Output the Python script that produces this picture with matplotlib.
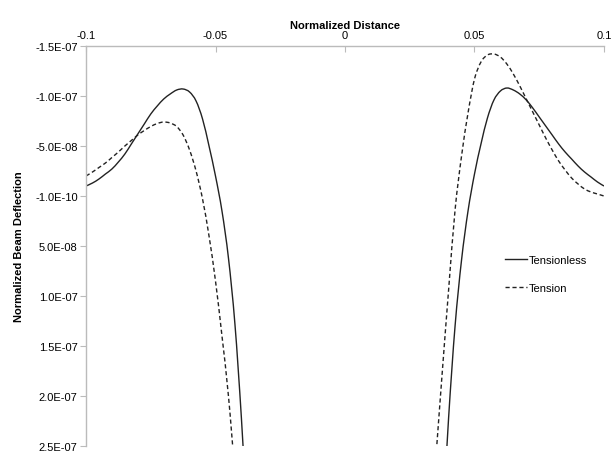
import matplotlib
matplotlib.use('Agg')
import matplotlib.pyplot as plt
from matplotlib.path import Path
from matplotlib.patches import PathPatch
from matplotlib.lines import Line2D
import numpy as np

plt.rcParams['font.family'] = ['Liberation Sans', 'DejaVu Sans']

# beam deflection, values in units of 1e-9
tensionless_left_x = [-0.1000, -0.0975, -0.0950, -0.0925, -0.0900, -0.0875, -0.0850, -0.0825, -0.0800,
                      -0.0775, -0.0750, -0.0725, -0.0700, -0.0675, -0.0650, -0.0625, -0.0600, -0.0575,
                      -0.0550, -0.0525, -0.0500, -0.0475, -0.0450, -0.0425, -0.0400, -0.0375]
tensionless_left_y = [-10, -13, -17, -22, -27, -34, -42, -52, -62,
                      -72, -82, -90, -97, -102, -106, -107, -104, -95,
                      -77, -50, -20, 15, 62, 128, 222, 335]

tensionless_right_x = [0.0375, 0.0400, 0.0425, 0.0450, 0.0475, 0.0500, 0.0525, 0.0550, 0.0575,
                       0.0600, 0.0625, 0.0650, 0.0675, 0.0700, 0.0725, 0.0750, 0.0775, 0.0800,
                       0.0825, 0.0850, 0.0875, 0.0900, 0.0925, 0.0950, 0.0975, 0.1000]
tensionless_right_y = [335, 222, 130, 64, 15, -22, -52, -78, -96,
                       -105, -108, -106, -102, -96, -88, -79, -70, -61,
                       -52, -44, -37, -30, -24, -19, -14, -10]

tension_left_x = [-0.1000, -0.0975, -0.0950, -0.0925, -0.0900, -0.0875, -0.0850, -0.0825, -0.0800,
                  -0.0775, -0.0750, -0.0725, -0.0700, -0.0675, -0.0650, -0.0625, -0.0600, -0.0575,
                  -0.0550, -0.0525, -0.0500, -0.0475, -0.0450, -0.0425, -0.0400]
tension_left_y = [-20, -24, -28.5, -33, -38.5, -44, -50, -55.5, -61,
                  -65.5, -69.5, -72.5, -74, -73, -69.5, -61, -46, -25,
                  3, 40, 85, 140, 200, 280, 380]

tension_right_x = [0.0325, 0.0350, 0.0375, 0.0400, 0.0425, 0.0450, 0.0475, 0.0500, 0.0525,
                   0.0550, 0.0575, 0.0600, 0.0625, 0.0650, 0.0675, 0.0700, 0.0725, 0.0750,
                   0.0775, 0.0800, 0.0825, 0.0850, 0.0875, 0.0900, 0.0925, 0.0950, 0.0975, 0.1000]
tension_right_y = [352, 265, 178, 94, 14, -40, -83, -117, -134,
                   -141, -142, -139, -132, -122, -110, -97, -84, -71,
                   -58, -46, -35, -26, -18, -12, -7, -4, -2, 0]

x_ticks = [-0.1, -0.05, 0, 0.05, 0.1]
x_tick_labels = ['-0.1', '-0.05', '0', '0.05', '0.1']
y_ticks = [-1.5e-7, -1.0e-7, -5.0e-8, -1.0e-10, 5.0e-8, 1.0e-7, 1.5e-7, 2.0e-7, 2.5e-7]
y_tick_labels = ['-1.5E-07', '-1.0E-07', '-5.0E-08', '-1.0E-10', '5.0E-08',
                 '1.0E-07', '1.5E-07', '2.0E-07', '2.5E-07']


def smooth_path(xs, ys):
    # Catmull-Rom through the points, written as cubic bezier segments
    p = np.column_stack([xs, np.array(ys) * 1e-9])
    ext = np.vstack([p[0], p, p[-1]])
    verts = [p[0]]
    codes = [Path.MOVETO]
    for i in range(1, len(ext) - 2):
        p0, p1, p2, p3 = ext[i - 1], ext[i], ext[i + 1], ext[i + 2]
        verts += [p1 + (p2 - p0) / 6, p2 - (p3 - p1) / 6, p2]
        codes += [Path.CURVE4] * 3
    return Path(verts, codes)


fig = plt.figure(figsize=(6.13, 4.56), dpi=100)
ax = fig.add_axes([0.1403, 0.0197, 0.8450, 0.8772])

line_color = '#222222'
dash = (0, (3, 2))

for xs, ys, ls in [(tensionless_left_x, tensionless_left_y, '-'),
                   (tensionless_right_x, tensionless_right_y, '-'),
                   (tension_left_x, tension_left_y, dash),
                   (tension_right_x, tension_right_y, dash)]:
    ax.add_patch(PathPatch(smooth_path(xs, ys), fill=False, edgecolor=line_color,
                           lw=1.0, linestyle=ls))

ax.set_xlim(-0.1, 0.1)
ax.set_ylim(2.5e-7, -1.5e-7)

ax.xaxis.tick_top()
ax.xaxis.set_label_position('top')
ax.set_xticks(x_ticks)
ax.set_xticklabels(x_tick_labels)
ax.set_yticks(y_ticks)
ax.set_yticklabels(y_tick_labels)

spine_color = '#BBBBBB'
for side in ['bottom', 'right']:
    ax.spines[side].set_visible(False)
for side in ['top', 'left']:
    ax.spines[side].set_color(spine_color)
    ax.spines[side].set_linewidth(1.0)

ax.tick_params(axis='x', direction='in', length=4, color=spine_color, labelsize=8, pad=4)
ax.tick_params(axis='y', direction='out', length=4, color=spine_color, labelsize=8, pad=2)

ax.set_xlabel('Normalized Distance', fontsize=8, fontweight='bold', labelpad=2)
ax.set_ylabel('Normalized Beam Deflection', fontsize=8, fontweight='bold', labelpad=8)

handles = [Line2D([], [], color=line_color, lw=1.0, label='Tensionless'),
           Line2D([], [], color=line_color, lw=1.0, linestyle=dash, label='Tension')]
ax.legend(handles=handles, loc='center left', bbox_to_anchor=(0.808, 0.43), frameon=False,
          fontsize=8, handlelength=2.0, handletextpad=0.2, labelspacing=1.6,
          borderpad=0, borderaxespad=0)

fig.savefig('out.png', dpi=100)
